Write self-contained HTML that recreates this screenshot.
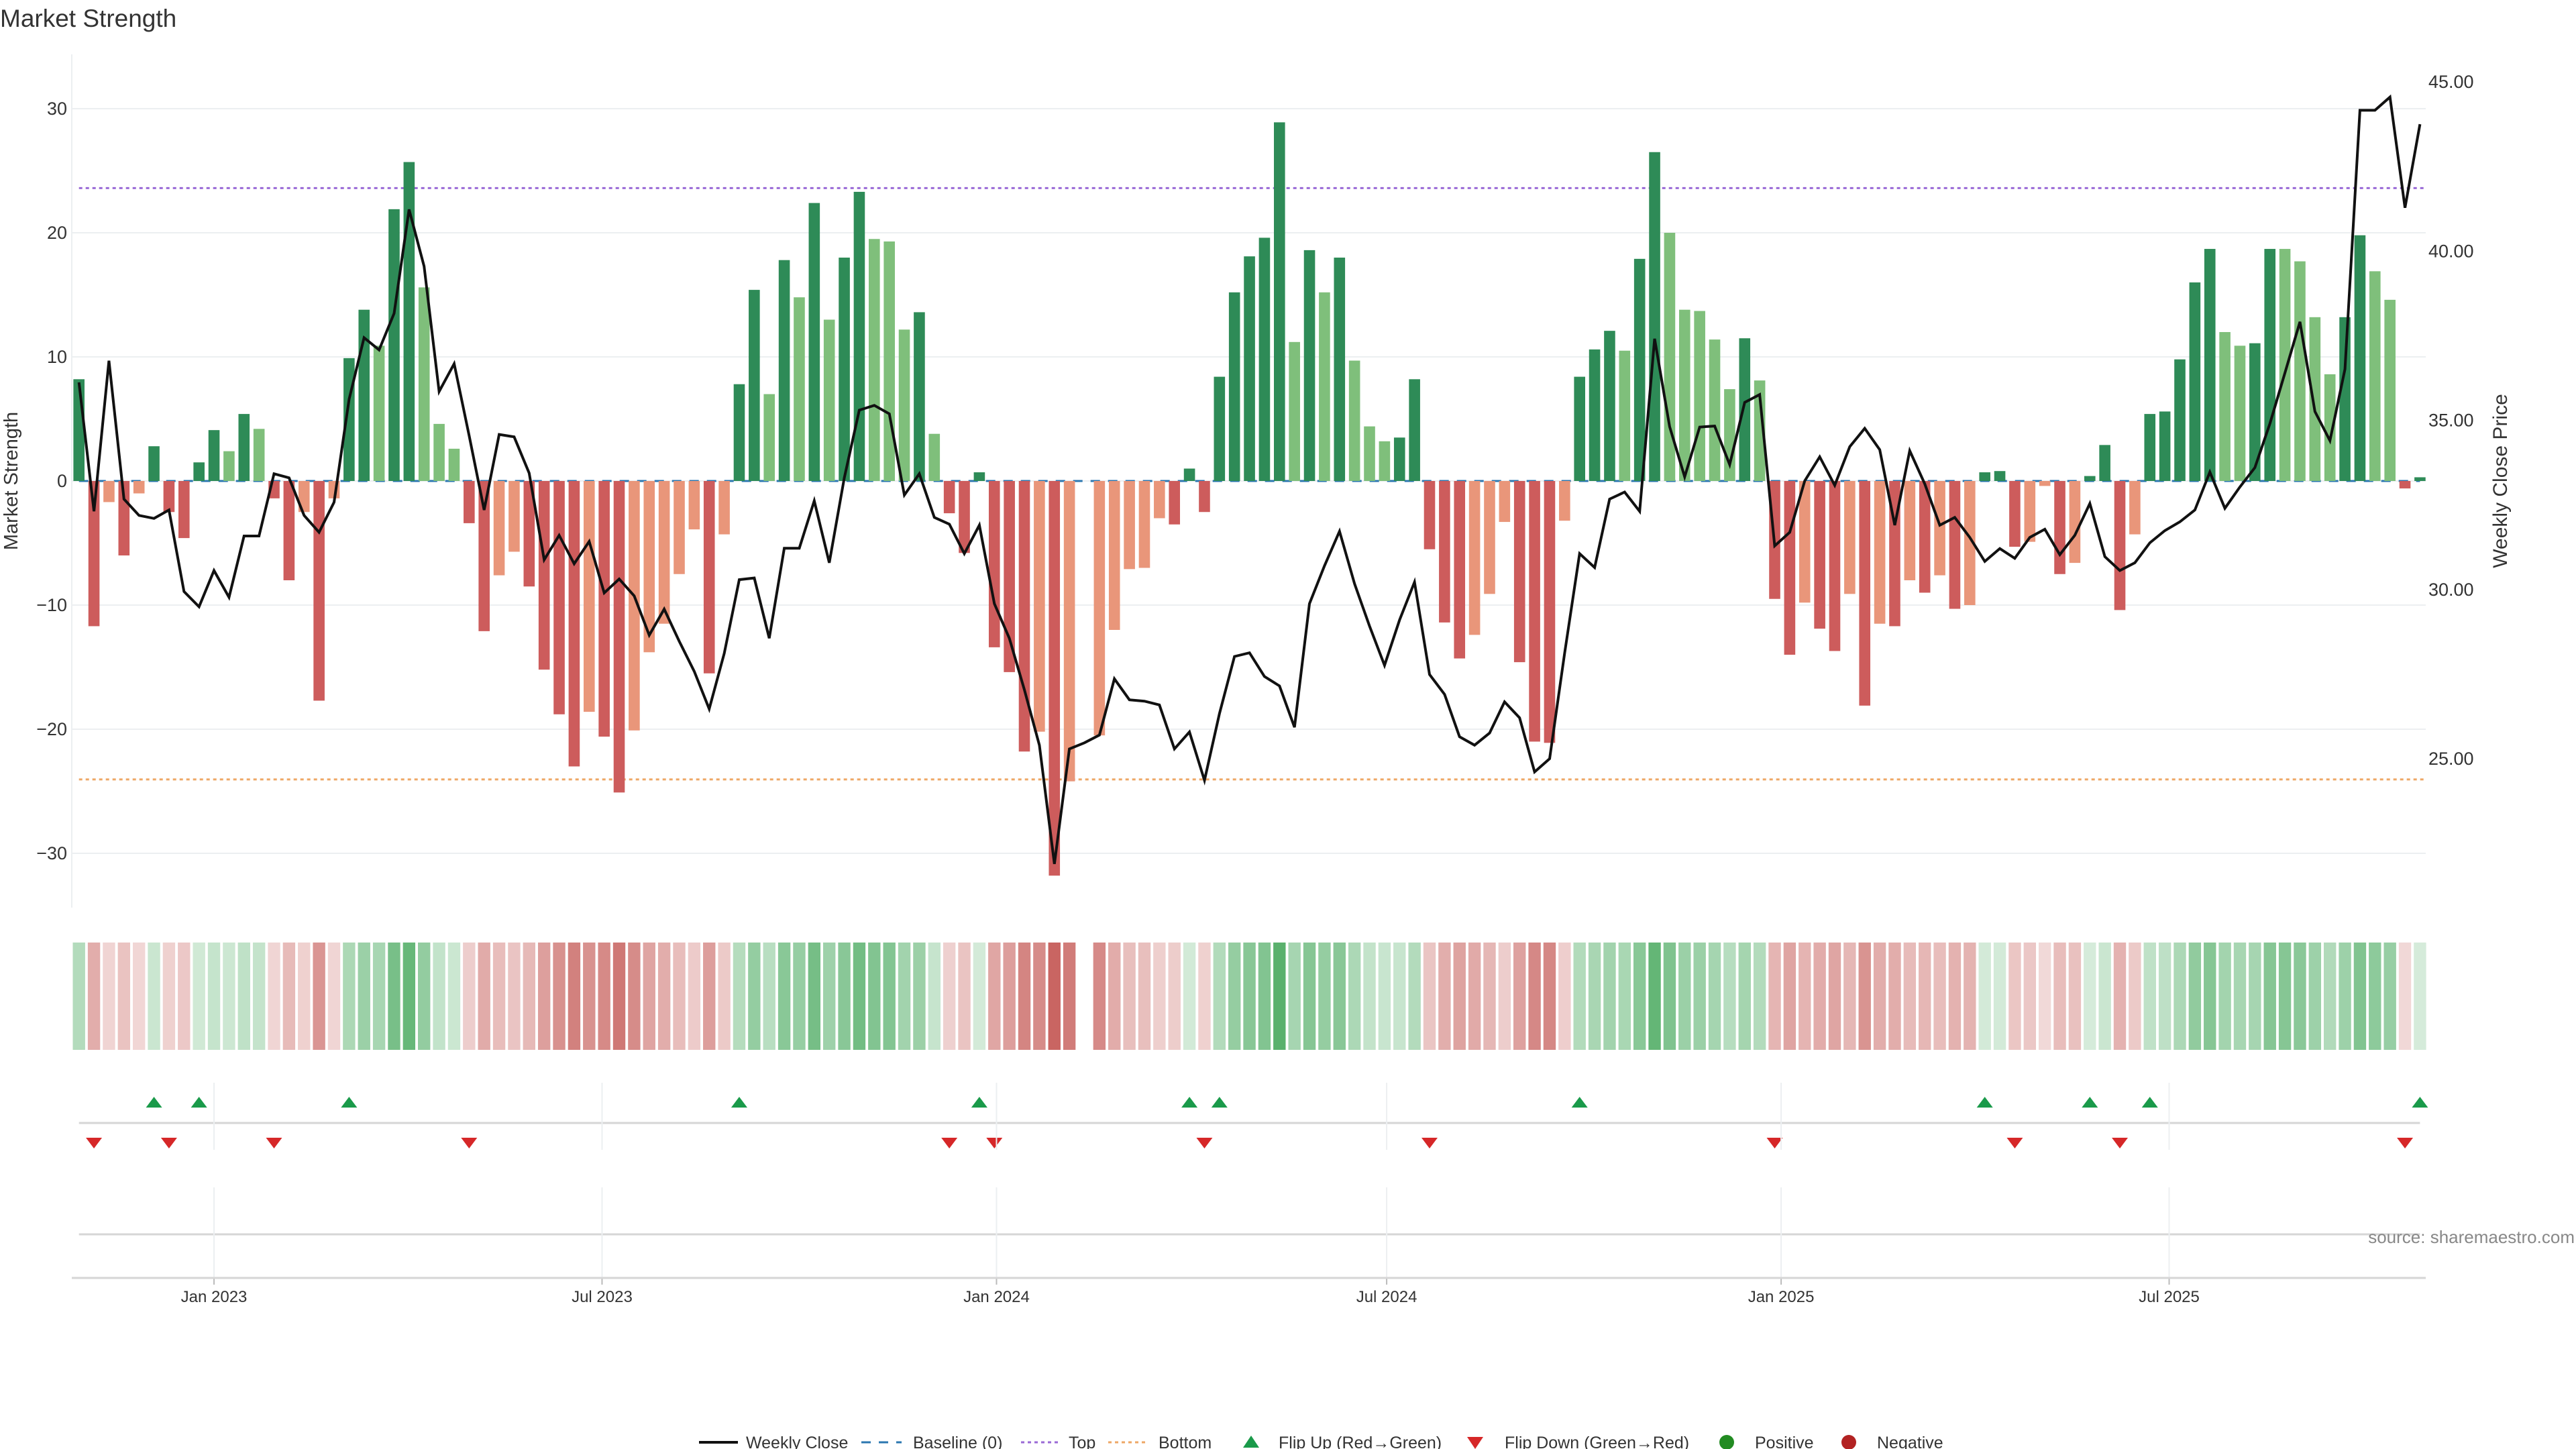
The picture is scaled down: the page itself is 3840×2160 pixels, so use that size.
<!DOCTYPE html>
<html><head><meta charset="utf-8"><title>Market Strength</title>
<style>
html,body{margin:0;padding:0;background:#fff;}
svg{display:block;font-family:"Liberation Sans","DejaVu Sans",sans-serif;}
</style></head>
<body>
<svg id="chart" width="3840" height="2160" viewBox="0 0 3840 2160" xmlns="http://www.w3.org/2000/svg">
<rect width="3840" height="2160" fill="#fff"/>
<text x="0" y="40" font-size="37" fill="#333">Market Strength</text>
<g id="grid"></g><g id="refs"></g><g id="bars"></g><g id="price"></g>
<g id="heat"></g><g id="markers"></g><g id="xaxis"></g><g id="axes"></g>
<text transform="translate(26,717) rotate(-90)" text-anchor="middle" font-size="29" fill="#333">Market Strength</text>
<text transform="translate(3737,717) rotate(-90)" text-anchor="middle" font-size="30" fill="#333">Weekly Close Price</text>
<text x="3838" y="1853" text-anchor="end" font-size="26" fill="#888">source: sharemaestro.com</text>
<g id="legend"></g>
</svg>
<script>
const strength = [
8.2,-11.7,-1.7,-6.0,-1.0,2.8,-2.5,-4.6,1.5,4.1,
2.4,5.4,4.2,-1.4,-8.0,-2.5,-17.7,-1.4,9.9,13.8,
10.9,21.9,25.7,15.6,4.6,2.6,-3.4,-12.1,-7.6,-5.7,
-8.5,-15.2,-18.8,-23.0,-18.6,-20.6,-25.1,-20.1,-13.8,-11.5,
-7.5,-3.9,-15.5,-4.3,7.8,15.4,7.0,17.8,14.8,22.4,
13.0,18.0,23.3,19.5,19.3,12.2,13.6,3.8,-2.6,-5.8,
0.7,-13.4,-15.4,-21.8,-20.2,-31.8,-24.2,null,-20.5,-12.0,
-7.1,-7.0,-3.0,-3.5,1.0,-2.5,8.4,15.2,18.1,19.6,
28.9,11.2,18.6,15.2,18.0,9.7,4.4,3.2,3.5,8.2,
-5.5,-11.4,-14.3,-12.4,-9.1,-3.3,-14.6,-21.0,-21.1,-3.2,
8.4,10.6,12.1,10.5,17.9,26.5,20.0,13.8,13.7,11.4,
7.4,11.5,8.1,-9.5,-14.0,-9.8,-11.9,-13.7,-9.1,-18.1,
-11.5,-11.7,-8.0,-9.0,-7.6,-10.3,-10.0,0.7,0.8,-5.3,
-4.9,-0.4,-7.5,-6.6,0.4,2.9,-10.4,-4.3,5.4,5.6,
9.8,16.0,18.7,12.0,10.9,11.1,18.7,18.7,17.7,13.2,
8.6,13.2,19.8,16.9,14.6,-0.6,0.3];
const shade = [
"d","r","o","r","o","d","r","r","d","d",
"l","d","l","r","r","o","r","o","d","d",
"l","d","d","l","l","l","r","r","o","o",
"r","r","r","r","o","r","r","o","o","o",
"o","o","r","o","d","d","l","d","l","d",
"l","d","d","l","l","l","d","l","r","r",
"d","r","r","r","o","r","o","-","o","o",
"o","o","o","r","d","r","d","d","d","d",
"d","l","d","l","d","l","l","l","d","d",
"r","r","r","o","o","o","r","r","r","o",
"d","d","d","l","d","d","l","l","l","l",
"l","d","l","r","r","o","r","r","o","r",
"o","r","o","r","o","r","o","d","d","r",
"o","o","r","o","d","d","r","o","d","d",
"d","d","d","l","l","d","d","l","l","l",
"l","d","d","l","l","r","d"];
const closes = [
36.12,32.31,36.76,32.67,32.19,32.10,32.35,29.94,29.49,30.56,
29.77,31.58,31.58,33.42,33.30,32.19,31.69,32.58,35.62,37.44,
37.08,38.16,41.23,39.55,35.85,36.67,34.55,32.35,34.58,34.51,
33.44,30.88,31.60,30.76,31.42,29.90,30.31,29.81,28.65,29.42,
28.47,27.58,26.47,28.11,30.29,30.34,28.56,31.22,31.22,32.62,
30.79,33.30,35.30,35.44,35.19,32.79,33.42,32.13,31.93,31.06,
31.90,29.58,28.56,27.04,25.40,21.89,25.29,25.47,25.70,27.36,
26.74,26.70,26.59,25.29,25.79,24.36,26.33,28.02,28.13,27.43,
27.15,25.93,29.58,30.70,31.72,30.17,28.92,27.76,29.10,30.22,
27.49,26.90,25.65,25.40,25.76,26.68,26.21,24.61,25.00,28.11,
31.06,30.65,32.67,32.88,32.31,37.41,34.81,33.33,34.80,34.83,
33.69,35.53,35.76,31.29,31.69,33.21,33.92,33.08,34.22,34.76,
34.13,31.90,34.10,33.12,31.90,32.13,31.54,30.83,31.21,30.92,
31.54,31.78,31.03,31.60,32.54,30.97,30.56,30.79,31.38,31.74,
32.00,32.35,33.47,32.40,33.03,33.60,34.90,36.40,37.91,35.26,
34.40,36.51,44.16,44.16,44.55,41.28,43.75];
const leftTicks = [-30,-20,-10,0,10,20,30];
const rightTicks = [25,30,35,40,45];
const xTickDates = ["2023-01-01","2023-07-01","2024-01-01","2024-07-01","2025-01-01","2025-07-01"];
const xTickLabels = ["Jan 2023","Jul 2023","Jan 2024","Jul 2024","Jan 2025","Jul 2025"];
const topLevel = 23.6;
const bottomLevel = -24.05;
const firstWeek = "2022-10-30";

const NS="http://www.w3.org/2000/svg";
const X0=117.7, STEP=22.37, PL=107, PR=3616;
const xi=i=>X0+i*STEP;
const yL=v=>717-v*18.5;
const yR=p=>122+(45-p)*50.45;
const xDate=d=>X0+((new Date(d)-new Date(firstWeek))/86400000)/7*STEP;
function mk(tag,attrs,parent){const e=document.createElementNS(NS,tag);for(const k in attrs)e.setAttribute(k,attrs[k]);document.getElementById(parent).appendChild(e);return e;}

leftTicks.forEach(t=>{
  const l=mk('line',{x1:PL,x2:PR,y1:yL(t),y2:yL(t),stroke:'#eceff1','stroke-width':2},'grid');
  
  
  const tx=mk('text',{x:100,y:yL(t)+9,'text-anchor':'end','font-size':27,fill:'#333'},'axes');
  tx.textContent=(t<0?'\u2212'+(-t):String(t));
  
  
});
rightTicks.forEach(t=>{
  const tx=mk('text',{x:3620,y:yR(t)+9,'font-size':27,fill:'#333'},'axes');
  tx.textContent=t.toFixed(2);
  
  
});
const sp=mk('line',{x1:PL,x2:PL,y1:81,y2:1353,stroke:'#eceff1','stroke-width':2},'grid');



const base=mk('line',{x1:X0,x2:xi(strength.length-1),y1:yL(0),y2:yL(0),stroke:'#2b77b0','stroke-width':3,'stroke-dasharray':'14 12'},'refs');


const topL=mk('line',{x1:X0,x2:PR,y1:yL(topLevel),y2:yL(topLevel),stroke:'#9a6ad6','stroke-width':3,'stroke-dasharray':'5 5'},'refs');


const botL=mk('line',{x1:X0,x2:PR,y1:yL(bottomLevel),y2:yL(bottomLevel),stroke:'#eea766','stroke-width':3,'stroke-dasharray':'5 5'},'refs');



const colors={d:'#2e8b57',l:'#7fbf7b',r:'#cd5c5c',o:'#e9967a'};
strength.forEach((v,i)=>{
  if(v===null)return;
  const y0=yL(0), y1=yL(v);
  const fallback=v>=0?'#2e8b57':'#cd5c5c';
  const b=mk('rect',{x:xi(i)-8.3,y:Math.min(y0,y1),width:16.6,height:Math.max(1,Math.abs(y1-y0)),fill:colors[shade[i]]||fallback},'bars');
  
  
});

const pts=closes.map((p,i)=>xi(i).toFixed(1)+','+yR(p).toFixed(1)).join(' ');
const pl=mk('polyline',{points:pts,fill:'none',stroke:'#111','stroke-width':4,'stroke-linejoin':'miter'},'price');



function mix(base,a){return 'rgb('+base.map(c=>Math.round(255+(c-255)*a)).join(',')+')';}
strength.forEach((v,i)=>{
  if(v===null)return;
  const t=Math.min(Math.abs(v)/30,1);
  const a=0.22+0.7*t;
  const c=v>=0?mix([70,168,92],a):mix([196,88,84],a);
  const r=mk('rect',{x:xi(i)-9.2,y:1405,width:18.4,height:160,fill:c},'heat');
  
  
});

[1674,1840].forEach(y=>{
  const l=mk('line',{x1:X0,x2:xi(strength.length-1),y1:y,y2:y,stroke:'#d6d6d6','stroke-width':3},'xaxis');
  
  
});
xTickDates.forEach((d,k)=>{
  const x=xDate(d);
  const g1=mk('line',{x1:x,x2:x,y1:1614,y2:1714,stroke:'#eceff1','stroke-width':2},'xaxis');
  
  
  const g2=mk('line',{x1:x,x2:x,y1:1770,y2:1905,stroke:'#eceff1','stroke-width':2},'xaxis');
  
  
  const tk=mk('line',{x1:x,x2:x,y1:1905,y2:1915,stroke:'#bbb','stroke-width':2},'xaxis');
  
  
  const tx=mk('text',{x:x,y:1941,'text-anchor':'middle','font-size':24,fill:'#333'},'xaxis');
  tx.textContent=xTickLabels[k];
  
  
});
const ax=mk('line',{x1:PL,x2:PR,y1:1905,y2:1905,stroke:'#d6d6d6','stroke-width':3},'xaxis');



let prev=null;
strength.forEach((v,i)=>{
  if(v===null)return;
  if(prev!==null){
    const x=xi(i);
    if(prev<0&&v>=0){
      const m=mk('polygon',{points:`${x-12},1651 ${x+12},1651 ${x},1635`,fill:'#1a9a4a'},'markers');
      
      
    } else if(prev>=0&&v<0){
      const m=mk('polygon',{points:`${x-12},1696 ${x+12},1696 ${x},1712`,fill:'#d62728'},'markers');
      
      
    }
  }
  prev=v;
});

const LY=2150;
function ltext(x,s){const t=mk('text',{x:x,y:LY+9,'font-size':25,fill:'#333'},'legend');t.textContent=s;}
let e;
e=mk('line',{x1:1042,x2:1100,y1:LY,y2:LY,stroke:'#111','stroke-width':4},'legend');


ltext(1112,'Weekly Close');
e=mk('line',{x1:1284,x2:1344,y1:LY,y2:LY,stroke:'#2b77b0','stroke-width':3,'stroke-dasharray':'14 12'},'legend');


ltext(1361,'Baseline (0)');
e=mk('line',{x1:1522,x2:1578,y1:LY,y2:LY,stroke:'#9a6ad6','stroke-width':3,'stroke-dasharray':'5 5'},'legend');


ltext(1593,'Top');
e=mk('line',{x1:1652,x2:1708,y1:LY,y2:LY,stroke:'#eea766','stroke-width':3,'stroke-dasharray':'5 5'},'legend');


ltext(1727,'Bottom');
e=mk('polygon',{points:`1853,2158 1877,2158 1865,2140`,fill:'#1a9a4a'},'legend');


ltext(1906,'Flip Up (Red\u2192Green)');
e=mk('polygon',{points:`2187,2142 2211,2142 2199,2160`,fill:'#d62728'},'legend');


ltext(2243,'Flip Down (Green\u2192Red)');
e=mk('circle',{cx:2574,cy:LY,r:11,fill:'#228b22'},'legend');


ltext(2616,'Positive');
e=mk('circle',{cx:2756,cy:LY,r:11,fill:'#b22222'},'legend');


ltext(2798,'Negative');
</script>
</body></html>
